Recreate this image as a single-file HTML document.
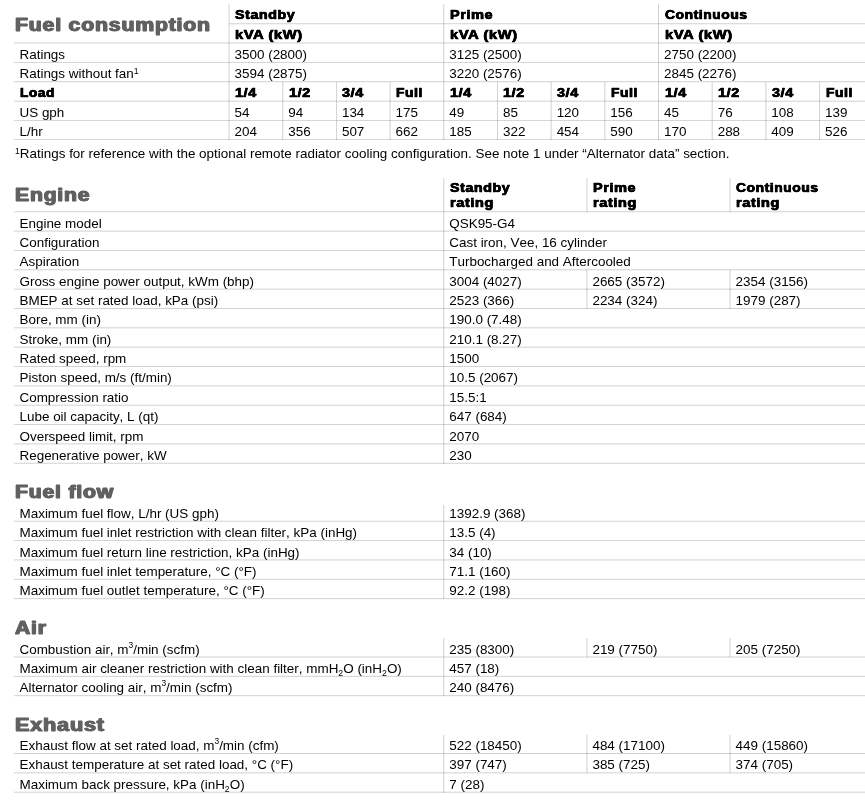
<!DOCTYPE html>
<html lang="en"><head><meta charset="utf-8"><title>Fuel consumption</title>
<style>
html,body{margin:0;padding:0;background:#fff;}
body{width:865px;height:800px;position:relative;overflow:hidden;font-family:"Liberation Sans",sans-serif;color:#000;}
.l{position:absolute;}
.t,.b,.h{position:absolute;white-space:nowrap;line-height:0;height:0;}
.t{font-size:13.44px;font-kerning:none;}
.b{font-size:12.6px;font-weight:bold;letter-spacing:0.5px;-webkit-text-stroke:0.5px #000;text-shadow:0.3px 0 0 #000,-0.3px 0 0 #000;transform-origin:0 0;}
.h{font-size:18.6px;font-weight:bold;color:#616161;letter-spacing:0.7px;-webkit-text-stroke:0.8px #616161;text-shadow:0.65px 0 0 #616161,-0.65px 0 0 #616161;transform-origin:0 0;}
sup{font-size:8.4px;vertical-align:baseline;position:relative;top:-5.3px;line-height:0;}
sup.f{font-size:8.7px;top:-3.2px;}
sub{font-size:8.7px;vertical-align:baseline;position:relative;top:2.9px;line-height:0;}
</style></head>
<body>
<!-- Fuel consumption -->
<div class="h" style="left:14.90px;top:24.61px;transform:scaleX(1.143)">Fuel consumption</div>
<div class="l" style="top:23px;left:229px;width:636px;height:1px;background:rgba(0,0,0,0.135)"></div><div class="l" style="top:24px;left:229px;width:636px;height:1px;background:rgba(0,0,0,0.045)"></div>
<div class="l" style="top:42px;left:14px;width:851px;height:1px;background:rgba(0,0,0,0.090)"></div><div class="l" style="top:43px;left:14px;width:851px;height:1px;background:rgba(0,0,0,0.090)"></div>
<div class="l" style="top:62px;left:14px;width:851px;height:1px;background:rgba(0,0,0,0.162)"></div>
<div class="l" style="top:81px;left:14px;width:851px;height:1px;background:rgba(0,0,0,0.144)"></div><div class="l" style="top:82px;left:14px;width:851px;height:1px;background:rgba(0,0,0,0.036)"></div>
<div class="l" style="top:100px;left:14px;width:851px;height:1px;background:rgba(0,0,0,0.054)"></div><div class="l" style="top:101px;left:14px;width:851px;height:1px;background:rgba(0,0,0,0.126)"></div>
<div class="l" style="top:120px;left:14px;width:851px;height:1px;background:rgba(0,0,0,0.162)"></div>
<div class="l" style="top:139px;left:14px;width:851px;height:1px;background:rgba(0,0,0,0.162)"></div>
<div class="l" style="left:228px;top:4px;height:136px;width:1px;background:rgba(0,0,0,0.079)"></div><div class="l" style="left:229px;top:4px;height:136px;width:1px;background:rgba(0,0,0,0.101)"></div>
<div class="l" style="left:443px;top:4px;height:136px;width:1px;background:rgba(0,0,0,0.130)"></div><div class="l" style="left:444px;top:4px;height:136px;width:1px;background:rgba(0,0,0,0.051)"></div>
<div class="l" style="left:658px;top:4px;height:136px;width:1px;background:rgba(0,0,0,0.180)"></div>
<div class="l" style="left:282px;top:82px;height:58px;width:1px;background:rgba(0,0,0,0.137)"></div><div class="l" style="left:283px;top:82px;height:58px;width:1px;background:rgba(0,0,0,0.043)"></div>
<div class="l" style="left:336px;top:82px;height:58px;width:1px;background:rgba(0,0,0,0.166)"></div>
<div class="l" style="left:389px;top:82px;height:58px;width:1px;background:rgba(0,0,0,0.072)"></div><div class="l" style="left:390px;top:82px;height:58px;width:1px;background:rgba(0,0,0,0.108)"></div>
<div class="l" style="left:497px;top:82px;height:58px;width:1px;background:rgba(0,0,0,0.173)"></div>
<div class="l" style="left:550px;top:82px;height:58px;width:1px;background:rgba(0,0,0,0.065)"></div><div class="l" style="left:551px;top:82px;height:58px;width:1px;background:rgba(0,0,0,0.115)"></div>
<div class="l" style="left:604px;top:82px;height:58px;width:1px;background:rgba(0,0,0,0.123)"></div><div class="l" style="left:605px;top:82px;height:58px;width:1px;background:rgba(0,0,0,0.058)"></div>
<div class="l" style="left:711px;top:82px;height:58px;width:1px;background:rgba(0,0,0,0.058)"></div><div class="l" style="left:712px;top:82px;height:58px;width:1px;background:rgba(0,0,0,0.123)"></div>
<div class="l" style="left:765px;top:82px;height:58px;width:1px;background:rgba(0,0,0,0.115)"></div><div class="l" style="left:766px;top:82px;height:58px;width:1px;background:rgba(0,0,0,0.065)"></div>
<div class="l" style="left:819px;top:82px;height:58px;width:1px;background:rgba(0,0,0,0.173)"></div>
<div class="b" style="left:235.06px;top:15.13px;transform:scaleX(1.133)">Standby</div>
<div class="b" style="left:235.06px;top:34.63px;transform:scaleX(1.170)">kVA (kW)</div>
<div class="b" style="left:449.78px;top:15.13px;transform:scaleX(1.150)">Prime</div>
<div class="b" style="left:449.78px;top:34.63px;transform:scaleX(1.170)">kVA (kW)</div>
<div class="b" style="left:664.50px;top:15.13px;transform:scaleX(1.102)">Continuous</div>
<div class="b" style="left:664.50px;top:34.63px;transform:scaleX(1.170)">kVA (kW)</div>
<div class="t" style="left:19.50px;top:54.64px">Ratings</div>
<div class="t" style="left:19.50px;top:73.64px">Ratings without fan<sup class="f">1</sup></div>
<div class="t" style="left:234.56px;top:54.64px">3500 (2800)</div>
<div class="t" style="left:234.56px;top:73.64px">3594 (2875)</div>
<div class="t" style="left:449.28px;top:54.64px">3125 (2500)</div>
<div class="t" style="left:449.28px;top:73.64px">3220 (2576)</div>
<div class="t" style="left:664.00px;top:54.64px">2750 (2200)</div>
<div class="t" style="left:664.00px;top:73.64px">2845 (2276)</div>
<div class="b" style="left:20.00px;top:93.13px;transform:scaleX(1.089)">Load</div>
<div class="t" style="left:19.50px;top:112.64px">US gph</div>
<div class="t" style="left:19.50px;top:131.64px">L/hr</div>
<div class="b" style="left:235.06px;top:93.13px;transform:scaleX(1.142)">1/4</div>
<div class="t" style="left:234.56px;top:112.64px">54</div>
<div class="t" style="left:234.56px;top:131.64px">204</div>
<div class="b" style="left:288.74px;top:93.13px;transform:scaleX(1.142)">1/2</div>
<div class="t" style="left:288.24px;top:112.64px">94</div>
<div class="t" style="left:288.24px;top:131.64px">356</div>
<div class="b" style="left:342.42px;top:93.13px;transform:scaleX(1.142)">3/4</div>
<div class="t" style="left:341.92px;top:112.64px">134</div>
<div class="t" style="left:341.92px;top:131.64px">507</div>
<div class="b" style="left:396.10px;top:93.13px;transform:scaleX(1.103)">Full</div>
<div class="t" style="left:395.60px;top:112.64px">175</div>
<div class="t" style="left:395.60px;top:131.64px">662</div>
<div class="b" style="left:449.78px;top:93.13px;transform:scaleX(1.142)">1/4</div>
<div class="t" style="left:449.28px;top:112.64px">49</div>
<div class="t" style="left:449.28px;top:131.64px">185</div>
<div class="b" style="left:503.46px;top:93.13px;transform:scaleX(1.142)">1/2</div>
<div class="t" style="left:502.96px;top:112.64px">85</div>
<div class="t" style="left:502.96px;top:131.64px">322</div>
<div class="b" style="left:557.14px;top:93.13px;transform:scaleX(1.142)">3/4</div>
<div class="t" style="left:556.64px;top:112.64px">120</div>
<div class="t" style="left:556.64px;top:131.64px">454</div>
<div class="b" style="left:610.82px;top:93.13px;transform:scaleX(1.103)">Full</div>
<div class="t" style="left:610.32px;top:112.64px">156</div>
<div class="t" style="left:610.32px;top:131.64px">590</div>
<div class="b" style="left:664.50px;top:93.13px;transform:scaleX(1.142)">1/4</div>
<div class="t" style="left:664.00px;top:112.64px">45</div>
<div class="t" style="left:664.00px;top:131.64px">170</div>
<div class="b" style="left:718.18px;top:93.13px;transform:scaleX(1.142)">1/2</div>
<div class="t" style="left:717.68px;top:112.64px">76</div>
<div class="t" style="left:717.68px;top:131.64px">288</div>
<div class="b" style="left:771.86px;top:93.13px;transform:scaleX(1.142)">3/4</div>
<div class="t" style="left:771.36px;top:112.64px">108</div>
<div class="t" style="left:771.36px;top:131.64px">409</div>
<div class="b" style="left:825.54px;top:93.13px;transform:scaleX(1.103)">Full</div>
<div class="t" style="left:825.04px;top:112.64px">139</div>
<div class="t" style="left:825.04px;top:131.64px">526</div>
<div class="t" style="left:15.00px;top:153.64px"><sup class="f">1</sup>Ratings for reference with the optional remote radiator cooling configuration. See note 1 under &ldquo;Alternator data&rdquo; section.</div>
<!-- Engine -->
<div class="h" style="left:14.90px;top:195.11px;transform:scaleX(1.138)">Engine</div>
<div class="l" style="top:211px;left:14px;width:851px;height:1px;background:rgba(0,0,0,0.135)"></div><div class="l" style="top:212px;left:14px;width:851px;height:1px;background:rgba(0,0,0,0.045)"></div>
<div class="l" style="top:230px;left:14px;width:851px;height:1px;background:rgba(0,0,0,0.073)"></div><div class="l" style="top:231px;left:14px;width:851px;height:1px;background:rgba(0,0,0,0.108)"></div>
<div class="t" style="left:19.50px;top:223.64px">Engine model</div>
<div class="t" style="left:449.28px;top:223.64px">QSK95-G4</div>
<div class="l" style="top:250px;left:14px;width:851px;height:1px;background:rgba(0,0,0,0.170)"></div>
<div class="t" style="left:19.50px;top:242.64px">Configuration</div>
<div class="t" style="left:449.28px;top:242.64px">Cast iron, Vee, 16 cylinder</div>
<div class="l" style="top:269px;left:14px;width:851px;height:1px;background:rgba(0,0,0,0.128)"></div><div class="l" style="top:270px;left:14px;width:851px;height:1px;background:rgba(0,0,0,0.052)"></div>
<div class="t" style="left:19.50px;top:261.64px">Aspiration</div>
<div class="t" style="left:449.28px;top:261.64px">Turbocharged and Aftercooled</div>
<div class="l" style="top:288px;left:14px;width:851px;height:1px;background:rgba(0,0,0,0.066)"></div><div class="l" style="top:289px;left:14px;width:851px;height:1px;background:rgba(0,0,0,0.114)"></div>
<div class="t" style="left:19.50px;top:281.64px">Gross engine power output, kWm (bhp)</div>
<div class="t" style="left:449.28px;top:281.64px">3004 (4027)</div>
<div class="t" style="left:592.43px;top:281.64px">2665 (3572)</div>
<div class="t" style="left:735.57px;top:281.64px">2354 (3156)</div>
<div class="l" style="left:586px;top:270px;height:20px;width:1px;background:rgba(0,0,0,0.103)"></div><div class="l" style="left:587px;top:270px;height:20px;width:1px;background:rgba(0,0,0,0.077)"></div>
<div class="l" style="left:729px;top:270px;height:20px;width:1px;background:rgba(0,0,0,0.077)"></div><div class="l" style="left:730px;top:270px;height:20px;width:1px;background:rgba(0,0,0,0.103)"></div>
<div class="l" style="top:308px;left:14px;width:851px;height:1px;background:rgba(0,0,0,0.177)"></div>
<div class="t" style="left:19.50px;top:300.64px">BMEP at set rated load, kPa (psi)</div>
<div class="t" style="left:449.28px;top:300.64px">2523 (366)</div>
<div class="t" style="left:592.43px;top:300.64px">2234 (324)</div>
<div class="t" style="left:735.57px;top:300.64px">1979 (287)</div>
<div class="l" style="left:586px;top:289px;height:20px;width:1px;background:rgba(0,0,0,0.103)"></div><div class="l" style="left:587px;top:289px;height:20px;width:1px;background:rgba(0,0,0,0.077)"></div>
<div class="l" style="left:729px;top:289px;height:20px;width:1px;background:rgba(0,0,0,0.077)"></div><div class="l" style="left:730px;top:289px;height:20px;width:1px;background:rgba(0,0,0,0.103)"></div>
<div class="l" style="top:327px;left:14px;width:851px;height:1px;background:rgba(0,0,0,0.122)"></div><div class="l" style="top:328px;left:14px;width:851px;height:1px;background:rgba(0,0,0,0.059)"></div>
<div class="t" style="left:19.50px;top:319.64px">Bore, mm (in)</div>
<div class="t" style="left:449.28px;top:319.64px">190.0 (7.48)</div>
<div class="l" style="top:346px;left:14px;width:851px;height:1px;background:rgba(0,0,0,0.059)"></div><div class="l" style="top:347px;left:14px;width:851px;height:1px;background:rgba(0,0,0,0.121)"></div>
<div class="t" style="left:19.50px;top:339.64px">Stroke, mm (in)</div>
<div class="t" style="left:449.28px;top:339.64px">210.1 (8.27)</div>
<div class="l" style="top:366px;left:14px;width:851px;height:1px;background:rgba(0,0,0,0.177)"></div>
<div class="t" style="left:19.50px;top:358.64px">Rated speed, rpm</div>
<div class="t" style="left:449.28px;top:358.64px">1500</div>
<div class="l" style="top:385px;left:14px;width:851px;height:1px;background:rgba(0,0,0,0.115)"></div><div class="l" style="top:386px;left:14px;width:851px;height:1px;background:rgba(0,0,0,0.066)"></div>
<div class="t" style="left:19.50px;top:377.64px">Piston speed, m/s (ft/min)</div>
<div class="t" style="left:449.28px;top:377.64px">10.5 (2067)</div>
<div class="l" style="top:404px;left:14px;width:851px;height:1px;background:rgba(0,0,0,0.052)"></div><div class="l" style="top:405px;left:14px;width:851px;height:1px;background:rgba(0,0,0,0.128)"></div>
<div class="t" style="left:19.50px;top:397.64px">Compression ratio</div>
<div class="t" style="left:449.28px;top:397.64px">15.5:1</div>
<div class="l" style="top:424px;left:14px;width:851px;height:1px;background:rgba(0,0,0,0.170)"></div>
<div class="t" style="left:19.50px;top:416.64px">Lube oil capacity, L (qt)</div>
<div class="t" style="left:449.28px;top:416.64px">647 (684)</div>
<div class="l" style="top:443px;left:14px;width:851px;height:1px;background:rgba(0,0,0,0.108)"></div><div class="l" style="top:444px;left:14px;width:851px;height:1px;background:rgba(0,0,0,0.073)"></div>
<div class="t" style="left:19.50px;top:436.64px">Overspeed limit, rpm</div>
<div class="t" style="left:449.28px;top:436.64px">2070</div>
<div class="l" style="top:462px;left:14px;width:851px;height:1px;background:rgba(0,0,0,0.045)"></div><div class="l" style="top:463px;left:14px;width:851px;height:1px;background:rgba(0,0,0,0.135)"></div>
<div class="t" style="left:19.50px;top:455.64px">Regenerative power, kW</div>
<div class="t" style="left:449.28px;top:455.64px">230</div>
<div class="l" style="left:443px;top:178px;height:286px;width:1px;background:rgba(0,0,0,0.130)"></div><div class="l" style="left:444px;top:178px;height:286px;width:1px;background:rgba(0,0,0,0.051)"></div>
<div class="l" style="left:586px;top:178px;height:34px;width:1px;background:rgba(0,0,0,0.103)"></div><div class="l" style="left:587px;top:178px;height:34px;width:1px;background:rgba(0,0,0,0.077)"></div>
<div class="l" style="left:729px;top:178px;height:34px;width:1px;background:rgba(0,0,0,0.077)"></div><div class="l" style="left:730px;top:178px;height:34px;width:1px;background:rgba(0,0,0,0.103)"></div>
<div class="b" style="left:449.78px;top:188.13px;transform:scaleX(1.133)">Standby</div>
<div class="b" style="left:449.78px;top:203.13px;transform:scaleX(1.155)">rating</div>
<div class="b" style="left:592.93px;top:188.13px;transform:scaleX(1.150)">Prime</div>
<div class="b" style="left:592.93px;top:203.13px;transform:scaleX(1.155)">rating</div>
<div class="b" style="left:736.07px;top:188.13px;transform:scaleX(1.102)">Continuous</div>
<div class="b" style="left:736.07px;top:203.13px;transform:scaleX(1.155)">rating</div>
<!-- Fuel flow -->
<div class="h" style="left:14.90px;top:492.11px;transform:scaleX(1.139)">Fuel flow</div>
<div class="l" style="top:520px;left:14px;width:851px;height:1px;background:rgba(0,0,0,0.046)"></div><div class="l" style="top:521px;left:14px;width:851px;height:1px;background:rgba(0,0,0,0.135)"></div>
<div class="t" style="left:19.50px;top:513.64px">Maximum fuel flow, L/hr (US gph)</div>
<div class="t" style="left:449.28px;top:513.64px">1392.9 (368)</div>
<div class="l" style="top:540px;left:14px;width:851px;height:1px;background:rgba(0,0,0,0.164)"></div>
<div class="t" style="left:19.50px;top:532.64px">Maximum fuel inlet restriction with clean filter, kPa (inHg)</div>
<div class="t" style="left:449.28px;top:532.64px">13.5 (4)</div>
<div class="l" style="top:559px;left:14px;width:851px;height:1px;background:rgba(0,0,0,0.101)"></div><div class="l" style="top:560px;left:14px;width:851px;height:1px;background:rgba(0,0,0,0.079)"></div>
<div class="t" style="left:19.50px;top:552.64px">Maximum fuel return line restriction, kPa (inHg)</div>
<div class="t" style="left:449.28px;top:552.64px">34 (10)</div>
<div class="l" style="top:578px;left:14px;width:851px;height:1px;background:rgba(0,0,0,0.039)"></div><div class="l" style="top:579px;left:14px;width:851px;height:1px;background:rgba(0,0,0,0.141)"></div>
<div class="t" style="left:19.50px;top:571.64px">Maximum fuel inlet temperature, &deg;C (&deg;F)</div>
<div class="t" style="left:449.28px;top:571.64px">71.1 (160)</div>
<div class="l" style="top:598px;left:14px;width:851px;height:1px;background:rgba(0,0,0,0.157)"></div><div class="l" style="top:599px;left:14px;width:851px;height:1px;background:rgba(0,0,0,0.023)"></div>
<div class="t" style="left:19.50px;top:590.64px">Maximum fuel outlet temperature, &deg;C (&deg;F)</div>
<div class="t" style="left:449.28px;top:590.64px">92.2 (198)</div>
<div class="l" style="left:443px;top:505px;height:94px;width:1px;background:rgba(0,0,0,0.130)"></div><div class="l" style="left:444px;top:505px;height:94px;width:1px;background:rgba(0,0,0,0.051)"></div>
<!-- Air -->
<div class="h" style="left:14.90px;top:628.11px;transform:scaleX(1.136)">Air</div>
<div class="l" style="top:656px;left:14px;width:851px;height:1px;background:rgba(0,0,0,0.091)"></div><div class="l" style="top:657px;left:14px;width:851px;height:1px;background:rgba(0,0,0,0.089)"></div>
<div class="t" style="left:19.50px;top:649.64px">Combustion air, m<sup>3</sup>/min (scfm)</div>
<div class="t" style="left:449.28px;top:649.64px">235 (8300)</div>
<div class="t" style="left:592.43px;top:649.64px">219 (7750)</div>
<div class="t" style="left:735.57px;top:649.64px">205 (7250)</div>
<div class="l" style="left:586px;top:638px;height:19px;width:1px;background:rgba(0,0,0,0.103)"></div><div class="l" style="left:587px;top:638px;height:19px;width:1px;background:rgba(0,0,0,0.077)"></div>
<div class="l" style="left:729px;top:638px;height:19px;width:1px;background:rgba(0,0,0,0.077)"></div><div class="l" style="left:730px;top:638px;height:19px;width:1px;background:rgba(0,0,0,0.103)"></div>
<div class="l" style="top:675px;left:14px;width:851px;height:1px;background:rgba(0,0,0,0.029)"></div><div class="l" style="top:676px;left:14px;width:851px;height:1px;background:rgba(0,0,0,0.152)"></div>
<div class="t" style="left:19.50px;top:668.64px">Maximum air cleaner restriction with clean filter, mmH<sub>2</sub>O (inH<sub>2</sub>O)</div>
<div class="t" style="left:449.28px;top:668.64px">457 (18)</div>
<div class="l" style="top:695px;left:14px;width:851px;height:1px;background:rgba(0,0,0,0.146)"></div><div class="l" style="top:696px;left:14px;width:851px;height:1px;background:rgba(0,0,0,0.034)"></div>
<div class="t" style="left:19.50px;top:687.64px">Alternator cooling air, m<sup>3</sup>/min (scfm)</div>
<div class="t" style="left:449.28px;top:687.64px">240 (8476)</div>
<div class="l" style="left:443px;top:638px;height:58px;width:1px;background:rgba(0,0,0,0.130)"></div><div class="l" style="left:444px;top:638px;height:58px;width:1px;background:rgba(0,0,0,0.051)"></div>
<!-- Exhaust -->
<div class="h" style="left:14.90px;top:724.91px;transform:scaleX(1.163)">Exhaust</div>
<div class="l" style="top:753px;left:14px;width:851px;height:1px;background:rgba(0,0,0,0.180)"></div>
<div class="t" style="left:19.50px;top:745.64px">Exhaust flow at set rated load, m<sup>3</sup>/min (cfm)</div>
<div class="t" style="left:449.28px;top:745.64px">522 (18450)</div>
<div class="t" style="left:592.43px;top:745.64px">484 (17100)</div>
<div class="t" style="left:735.57px;top:745.64px">449 (15860)</div>
<div class="l" style="left:586px;top:735px;height:19px;width:1px;background:rgba(0,0,0,0.103)"></div><div class="l" style="left:587px;top:735px;height:19px;width:1px;background:rgba(0,0,0,0.077)"></div>
<div class="l" style="left:729px;top:735px;height:19px;width:1px;background:rgba(0,0,0,0.077)"></div><div class="l" style="left:730px;top:735px;height:19px;width:1px;background:rgba(0,0,0,0.103)"></div>
<div class="l" style="top:772px;left:14px;width:851px;height:1px;background:rgba(0,0,0,0.119)"></div><div class="l" style="top:773px;left:14px;width:851px;height:1px;background:rgba(0,0,0,0.062)"></div>
<div class="t" style="left:19.50px;top:764.64px">Exhaust temperature at set rated load, &deg;C (&deg;F)</div>
<div class="t" style="left:449.28px;top:764.64px">397 (747)</div>
<div class="t" style="left:592.43px;top:764.64px">385 (725)</div>
<div class="t" style="left:735.57px;top:764.64px">374 (705)</div>
<div class="l" style="left:586px;top:753px;height:20px;width:1px;background:rgba(0,0,0,0.103)"></div><div class="l" style="left:587px;top:753px;height:20px;width:1px;background:rgba(0,0,0,0.077)"></div>
<div class="l" style="left:729px;top:753px;height:20px;width:1px;background:rgba(0,0,0,0.077)"></div><div class="l" style="left:730px;top:753px;height:20px;width:1px;background:rgba(0,0,0,0.103)"></div>
<div class="l" style="top:791px;left:14px;width:851px;height:1px;background:rgba(0,0,0,0.056)"></div><div class="l" style="top:792px;left:14px;width:851px;height:1px;background:rgba(0,0,0,0.124)"></div>
<div class="t" style="left:19.50px;top:784.64px">Maximum back pressure, kPa (inH<sub>2</sub>O)</div>
<div class="t" style="left:449.28px;top:784.64px">7 (28)</div>
<div class="l" style="left:443px;top:735px;height:58px;width:1px;background:rgba(0,0,0,0.130)"></div><div class="l" style="left:444px;top:735px;height:58px;width:1px;background:rgba(0,0,0,0.051)"></div>
</body></html>
